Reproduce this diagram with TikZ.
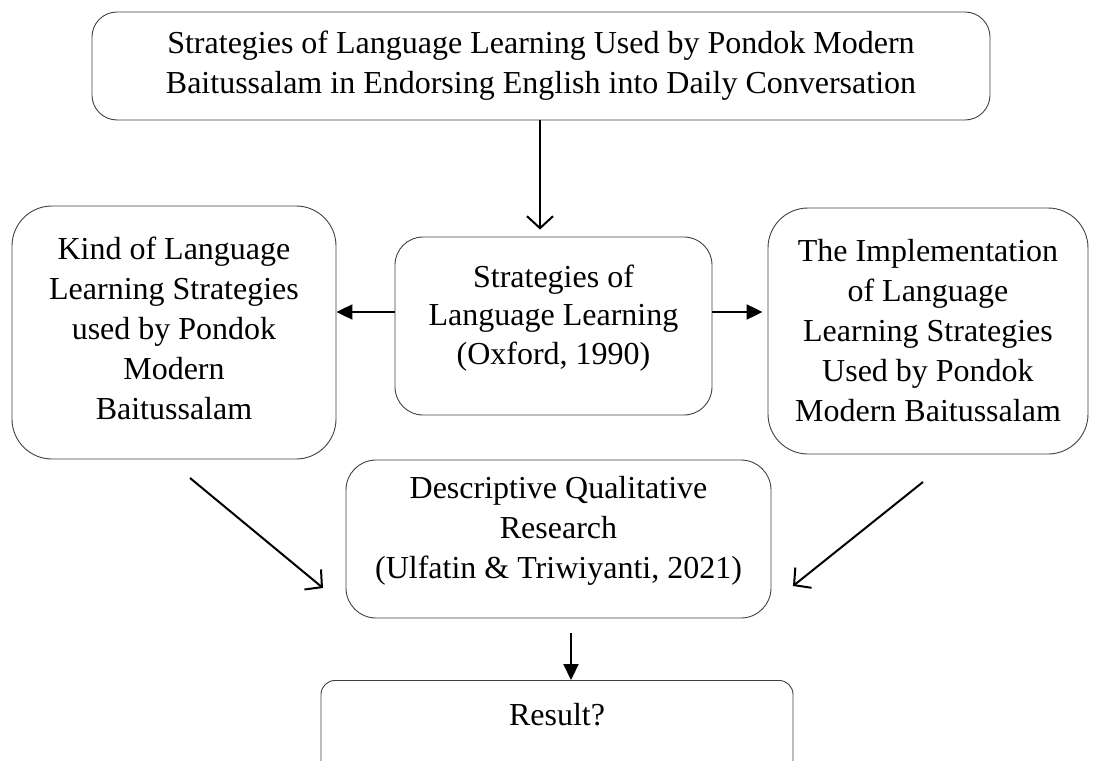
\documentclass[tikz,border=0pt]{standalone}
\usepackage{fontspec}
\setmainfont{Liberation Serif}
\usetikzlibrary{arrows.meta,calc}
\begin{document}
\begin{tikzpicture}[x=1bp,y=-1bp,
  box/.style={draw=black!75, line width=0.9bp, rectangle, align=center,
    font=\fontsize{32bp}{40bp}\selectfont, inner sep=0pt},
  openarrow/.style={line width=2bp, -{Straight Barb[length=12bp,width=26bp]}},
  fillarrow/.style={line width=2.2bp, -{Triangle[length=16bp,width=15bp]}}]
\useasboundingbox (0,0) rectangle (1099,761);
\clip (0,0) rectangle (1099,761);

\node[box, minimum width=898bp, minimum height=108bp, rounded corners=25bp] (top) at (541,66)
  {Strategies of Language Learning Used by Pondok Modern\\Baitussalam in Endorsing English into Daily Conversation};
\node[box, minimum width=324bp, minimum height=253bp, rounded corners=40bp, text depth=8bp] (left) at (174,332.5)
  {Kind of Language\\Learning Strategies\\used by Pondok\\Modern\\Baitussalam};
\node[box, minimum width=317bp, minimum height=178bp, rounded corners=28bp, text depth=23bp] (mid) at (553.5,326)
  {Strategies of\\[-1.5bp]Language Learning\\[-1.5bp](Oxford, 1990)};
\node[box, minimum width=320bp, minimum height=246bp, rounded corners=40bp] (right) at (928,331)
  {The Implementation\\of Language\\Learning Strategies\\Used by Pondok\\Modern Baitussalam};
\node[box, minimum width=425bp, minimum height=158bp, rounded corners=30bp, text depth=23bp] (desc) at (558.5,539)
  {Descriptive Qualitative\\Research\\(Ulfatin \& Triwiyanti, 2021)};
\node[box, anchor=north, minimum width=472bp, text depth=60bp, inner ysep=23bp, rounded corners=14bp] (res) at (557,680)
  {Result?};

\coordinate (ta) at (540,0);
\coordinate (ba) at (571,0);
\coordinate (ha) at (0,312);
\coordinate (l1) at (190,478);
\coordinate (l2) at (323,588);
\coordinate (r1) at (923,482);
\coordinate (r2) at (793,586);

\draw[openarrow] (ta |- top.south) -- ($(ta |- mid.north)+(0,-7)$);
\draw[fillarrow] (mid.west |- ha) -- (left.east |- ha);
\draw[fillarrow] (mid.east |- ha) -- ($(right.west |- ha)+(-5,0)$);
\draw[openarrow] (l1) -- (l2);
\draw[openarrow] (r1) -- (r2);
\draw[fillarrow] ($(ba |- desc.south)+(0,15)$) -- (ba |- res.north);
\end{tikzpicture}
\end{document}
